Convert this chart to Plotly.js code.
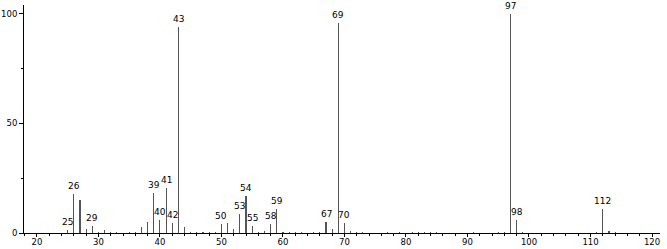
<!DOCTYPE html>
<html>
<head>
<meta charset="utf-8">
<script src="https://cdn.plot.ly/plotly-3.0.1.min.js"></script>
<style>html,body{margin:0;padding:0;background:#fff;}#chart{width:667px;height:249px;}</style>
</head>
<body>
<div id="chart"></div>
<script>
// m/z values and relative intensities (%)
const mz = [25, 26, 27, 28, 29, 30, 31, 32, 33, 35, 36, 37, 38, 39, 40, 41, 42, 43, 44, 45, 46, 47, 48, 49,
            50, 51, 52, 53, 54, 55, 56, 57, 58, 59, 60, 61, 62, 63, 65, 66, 67, 68, 69, 70, 71, 72, 73,
            77, 79, 81, 82, 83, 84, 85, 91, 95, 96, 97, 98, 99, 111, 112, 113, 114];
const intensity = [1.6, 18.0, 15.0, 2.0, 3.3, 0.5, 1.5, 0.4, 0.3, 0.3, 0.6, 2.6, 4.9, 18.3, 5.8, 20.4, 4.7, 94.2, 2.9, 0.4, 0.3, 0.4, 0.3, 0.6,
            4.1, 4.4, 1.8, 8.7, 16.9, 3.3, 0.5, 1.0, 4.2, 10.8, 0.6, 0.3, 0.4, 0.3, 0.5, 0.4, 5.0, 1.8, 96.0, 4.6, 1.0, 0.5, 0.3,
            0.3, 0.4, 0.4, 0.3, 0.4, 0.3, 0.3, 0.3, 0.4, 0.5, 100.0, 5.9, 0.5, 0.4, 10.8, 1.0, 0.5];
const labelled = [25, 26, 29, 39, 40, 41, 42, 43, 50, 53, 54, 55, 58, 59, 67, 69, 70, 97, 98, 112];
const xTickVals = [20, 30, 40, 50, 60, 70, 80, 90, 100, 110, 120];
const yTickVals = [0, 50, 100];

const annotations = labelled.map(m => {
  const i = mz.indexOf(m);
  return {x: m, y: intensity[i], text: String(m), showarrow: false,
          yanchor: 'bottom', xanchor: 'center', yshift: 1,
          font: {family: 'DejaVu Sans', size: 9, color: '#000'}};
});

const trace = {type: 'bar', x: mz, y: intensity, width: 0.18,
  marker: {color: '#555555', line: {width: 0}}, hoverinfo: 'x+y'};

const layout = {
  width: 667, height: 249,
  margin: {l: 24, r: 7, t: 5, b: 16},
  paper_bgcolor: '#fff', plot_bgcolor: '#fff',
  showlegend: false, bargap: 0,
  font: {family: 'DejaVu Sans', size: 9, color: '#000'},
  xaxis: {range: [17.9, 121.3], tickvals: xTickVals, ticks: 'outside', ticklen: 3, tickwidth: 1,
          ticklabelstandoff: -2,
          tickcolor: '#000', showline: true, linecolor: '#000', linewidth: 1, showgrid: false, zeroline: false,
          tickfont: {family: 'DejaVu Sans', size: 8.5, color: '#000'},
          minor: {dtick: 2, tick0: 0, ticks: 'outside', ticklen: 2, tickcolor: '#000', showgrid: false}},
  yaxis: {range: [0, 104.1], tickvals: yTickVals, ticks: 'outside', ticklen: 4, tickwidth: 1,
          tickcolor: '#000', showline: true, linecolor: '#000', linewidth: 1, showgrid: false, zeroline: false,
          tickfont: {family: 'DejaVu Sans', size: 8.5, color: '#000'},
          minor: {tickvals: [25, 75], ticks: 'outside', ticklen: 2, tickcolor: '#000', showgrid: false}},
  annotations: annotations
};
Plotly.newPlot('chart', [trace], layout, {displayModeBar: false, staticPlot: true});
</script>
</body>
</html>
